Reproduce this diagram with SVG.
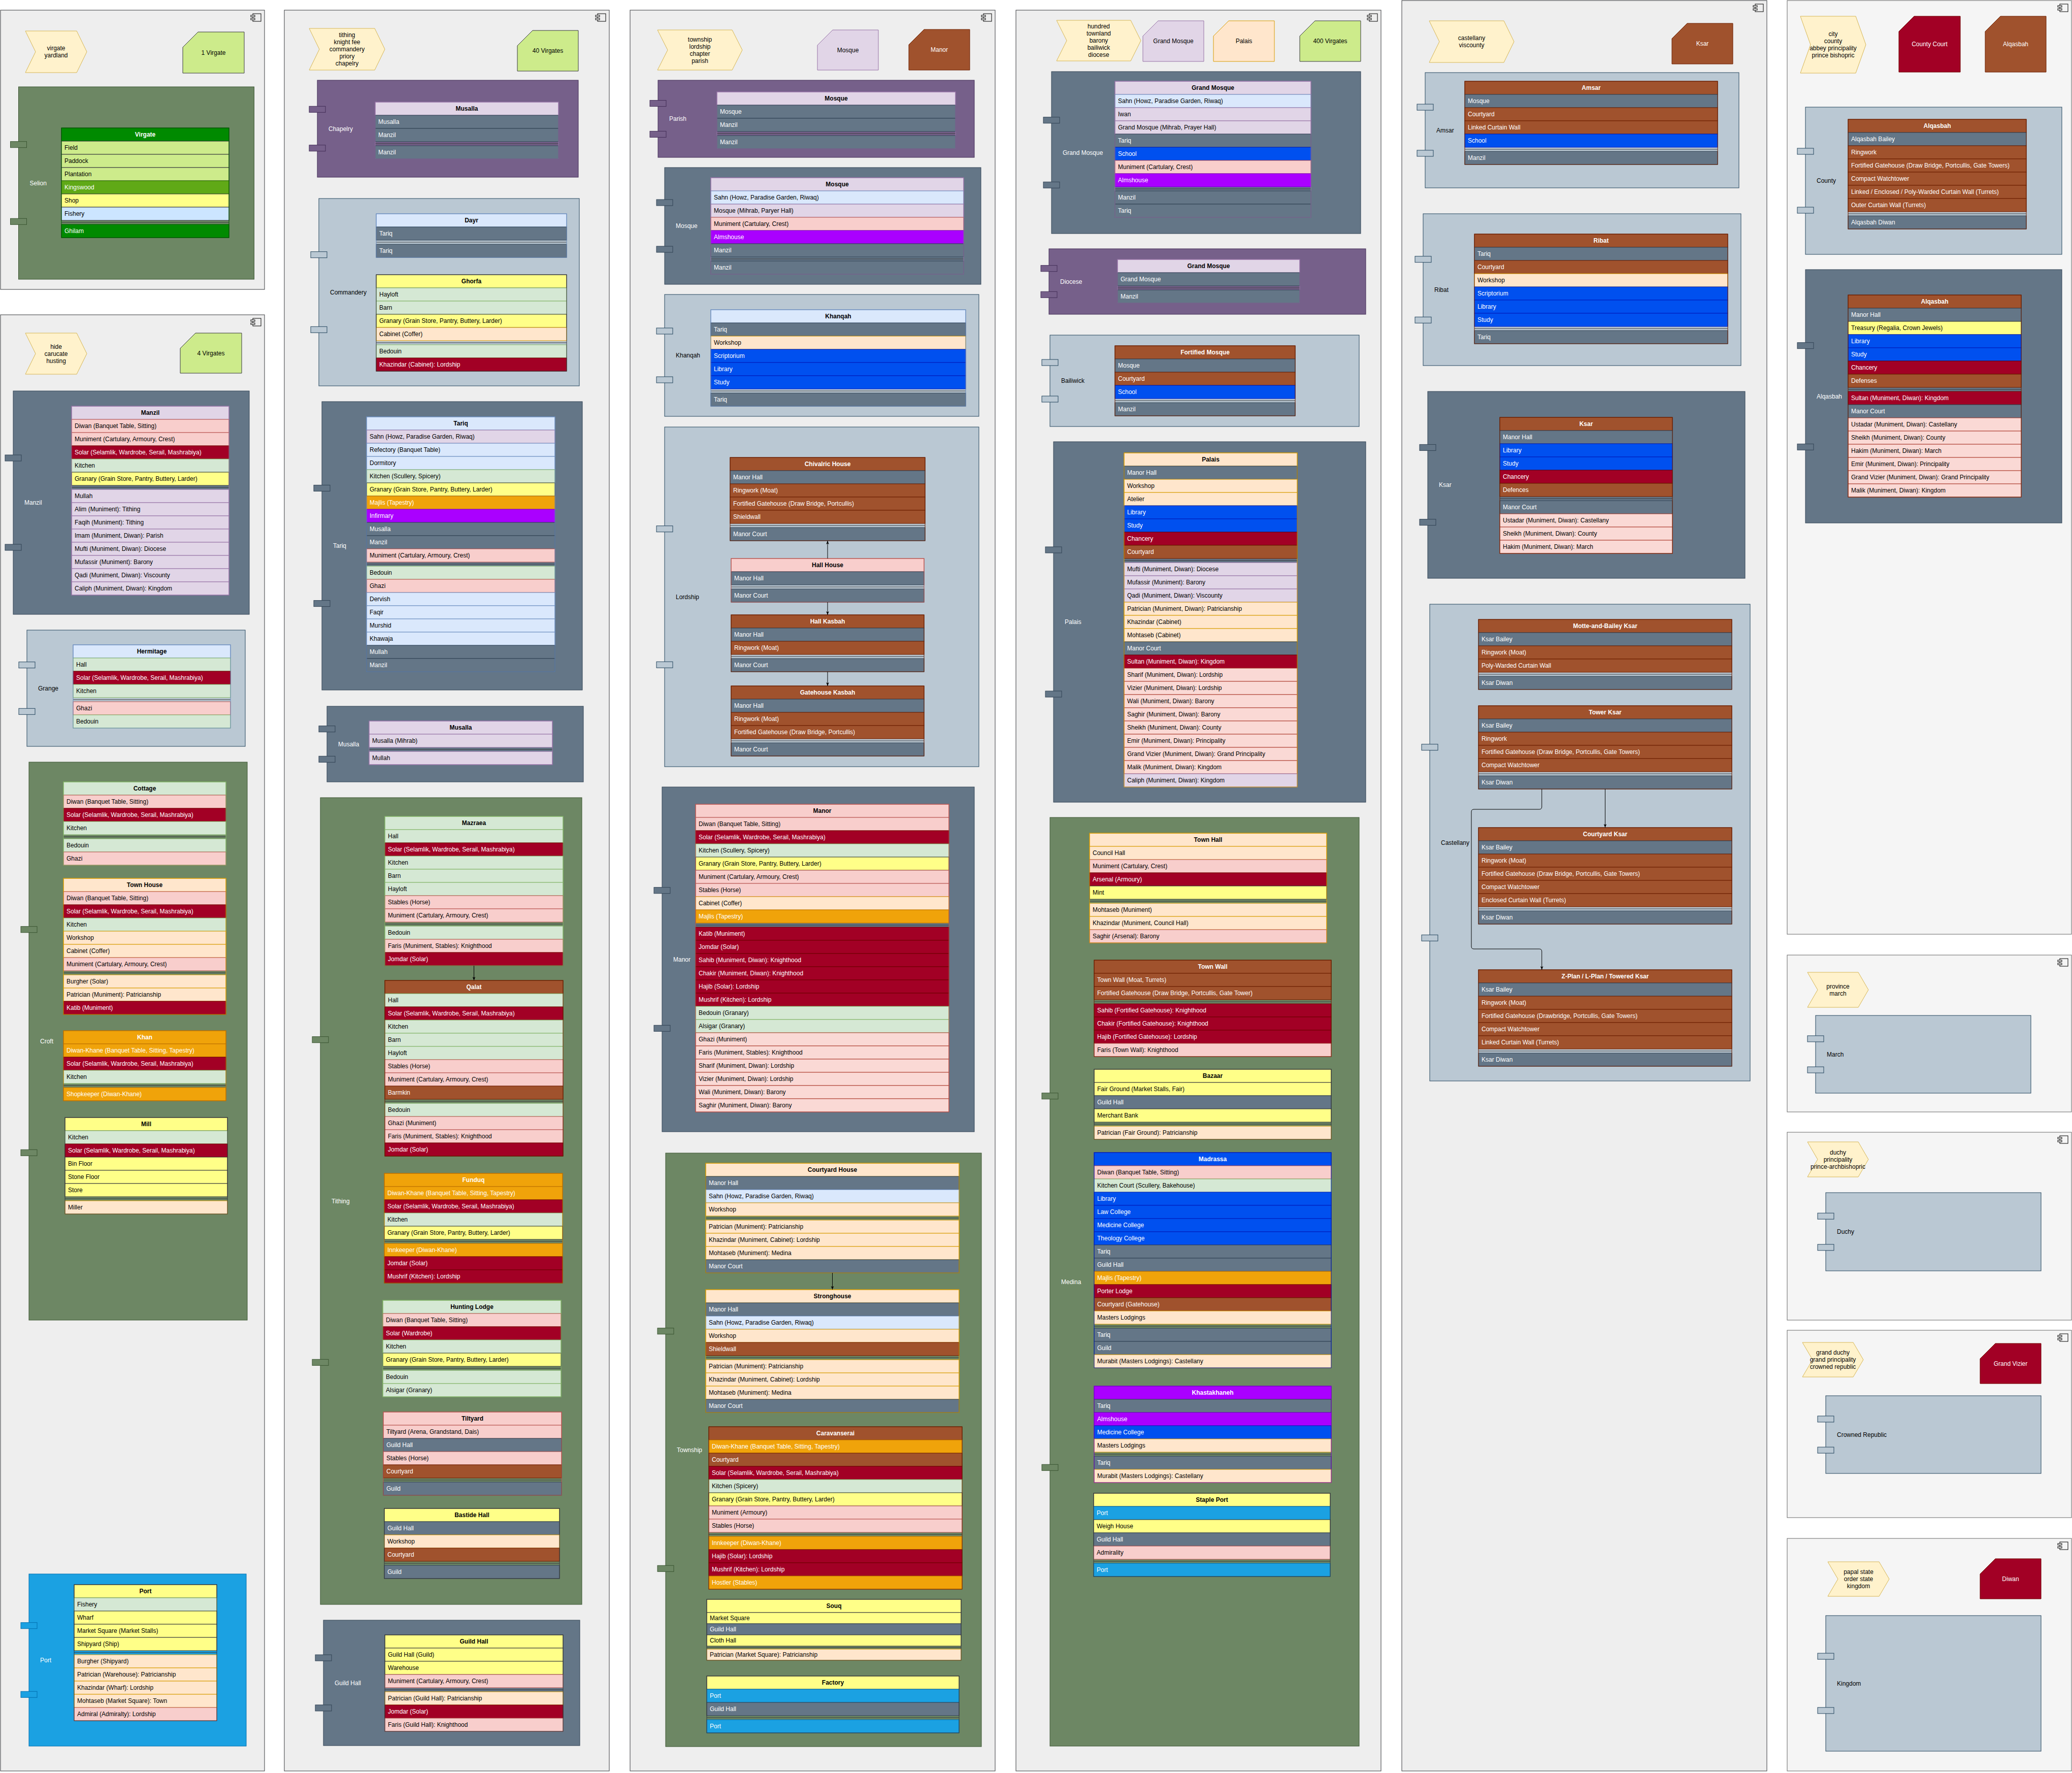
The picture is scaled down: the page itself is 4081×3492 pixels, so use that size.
<svg xmlns="http://www.w3.org/2000/svg" width="4081" height="3492" viewBox="0 0 4081 3492">
<defs>
<style>
text{font-family:"Liberation Sans",Arial,Helvetica,sans-serif;font-size:12px;fill:#000}
.w{fill:#fff}
.h{font-weight:bold;text-anchor:middle}
.m{text-anchor:middle}
.pn{fill:#eeeeee;stroke:#36393d}
.pn2{fill:#f5f5f5;stroke:#666666}
.ch{fill:#fff2cc;stroke:#d6b656}
.cg{fill:#6d8764;stroke:#3a5431}
.cs{fill:#647687;stroke:#314354}
.cp{fill:#76608a;stroke:#432d57}
.cb{fill:#bac8d3;stroke:#23445d}
.ck{fill:#1ba1e2;stroke:#006eaf}
.g{fill:#d5e8d4;stroke:#82b366}
.r{fill:#f8cecc;stroke:#b85450}
.rl{fill:#fad9d5;stroke:#ae4132}
.b{fill:#dae8fc;stroke:#6c8ebf}
.p{fill:#e1d5e7;stroke:#9673a6}
.o{fill:#ffe6cc;stroke:#d79b00}
.y{fill:#ffff88;stroke:#36393d}
.lg{fill:#cdeb8b;stroke:#36393d}
.lb{fill:#cce5ff;stroke:#36393d}
.s{fill:#647687;stroke:#314354}
.c{fill:#a20025;stroke:#6f0000}
.n{fill:#a0522d;stroke:#6d1f00}
.a{fill:#f0a30a;stroke:#bd7000}
.u{fill:#0050ef;stroke:#001dbc}
.v{fill:#aa00ff;stroke:#7700cc}
.k{fill:#1ba1e2;stroke:#006eaf}
.dg{fill:#008a00;stroke:#005700}
.mg{fill:#60a917;stroke:#2d7600}
.fr{fill:none}
.sl{stroke:#36393d;stroke-width:1}
.ic{fill:none;stroke:#000}
.ij{fill:#fff;stroke:#000}
</style>
<g id="ico"><rect class="ic" x="5" y="0" width="16" height="15"/><rect class="ij" x="1" y="3" width="8" height="3"/><rect class="ij" x="1" y="9" width="8" height="3"/></g>
<marker id="ah" viewBox="0 0 10 10" refX="10" refY="5" markerWidth="7" markerHeight="7" orient="auto" markerUnits="userSpaceOnUse"><path d="M0,1 L10,5 L0,9 L2.5,5 z" fill="#000"/></marker>
</defs>
<rect width="4081" height="3492" fill="#ffffff"/>

<!-- panels -->
<g id="panels">
<rect class="pn" x="1" y="20" width="520" height="550"/>
<rect class="pn" x="1" y="620" width="520" height="2868"/>
<rect class="pn" x="560" y="20" width="640" height="3468"/>
<rect class="pn" x="1241" y="20" width="719" height="3468"/>
<rect class="pn" x="2001" y="20" width="719" height="3468"/>
<rect class="pn" x="2761" y="1" width="719" height="3487"/>
<rect class="pn2" x="3520" y="1" width="560" height="1839"/>
<rect class="pn2" x="3520" y="1881" width="560" height="309"/>
<rect class="pn2" x="3520" y="2230" width="560" height="370"/>
<rect class="pn2" x="3520" y="2620" width="560" height="369"/>
<rect class="pn2" x="3520" y="3030" width="560" height="458"/>
<use href="#ico" x="493" y="27"/><use href="#ico" x="493" y="627"/><use href="#ico" x="1172" y="27"/><use href="#ico" x="1932" y="27"/><use href="#ico" x="2692" y="27"/><use href="#ico" x="3452" y="8"/><use href="#ico" x="4052" y="8"/><use href="#ico" x="4052" y="1888"/><use href="#ico" x="4052" y="2237"/><use href="#ico" x="4052" y="2627"/><use href="#ico" x="4052" y="3037"/>
</g>

<!-- chevrons and cards -->
<g id="tag-virgate"><polygon class="ch" points="50,61 151,61 171,102 151,143 50,143 70,102"/><text class="m" x="110.5" y="99">virgate</text><text class="m" x="110.5" y="113">yardland</text></g>
<g id="card-1virgate"><polygon class="lg" points="390,63 481,63 481,144 360,144 360,93"/><text class="m" x="420.5" y="107.5">1 Virgate</text></g>
<g id="tag-hide"><polygon class="ch" points="50,656 151,656 171,696.5 151,737 50,737 70,696.5"/><text class="m" x="110.5" y="686.5">hide</text><text class="m" x="110.5" y="700.5">carucate</text><text class="m" x="110.5" y="714.5">husting</text></g>
<g id="card-4virgates"><polygon class="lg" points="385,656 476,656 476,735 355,735 355,686"/><text class="m" x="415.5" y="699.5">4 Virgates</text></g>
<g id="tag-tithing"><polygon class="ch" points="609,56 738,56 758,97 738,138 609,138 629,97"/><text class="m" x="683.5" y="73">tithing</text><text class="m" x="683.5" y="87">knight fee</text><text class="m" x="683.5" y="101">commandery</text><text class="m" x="683.5" y="115">priory</text><text class="m" x="683.5" y="129">chapelry</text></g>
<g id="card-40virgates"><polygon class="lg" points="1049,60 1139,60 1139,140 1019,140 1019,90"/><text class="m" x="1079" y="104">40 Virgates</text></g>
<g id="tag-township"><polygon class="ch" points="1295,59 1442,59 1462,98.5 1442,138 1295,138 1315,98.5"/><text class="m" x="1378.5" y="81.5">township</text><text class="m" x="1378.5" y="95.5">lordship</text><text class="m" x="1378.5" y="109.5">chapter</text><text class="m" x="1378.5" y="123.5">parish</text></g>
<g id="card-mosque"><polygon class="p" points="1640,59 1730,59 1730,138 1610,138 1610,89"/><text class="m" x="1670" y="102.5">Mosque</text></g>
<g id="card-manor"><polygon class="n" points="1820,58 1910,58 1910,138 1790,138 1790,88"/><text class="m w" x="1850" y="102">Manor</text></g>
<g id="tag-hundred"><polygon class="ch" points="2081,40 2227,40 2247,80 2227,120 2081,120 2101,80"/><text class="m" x="2164" y="56">hundred</text><text class="m" x="2164" y="70">townland</text><text class="m" x="2164" y="84">barony</text><text class="m" x="2164" y="98">bailiwick</text><text class="m" x="2164" y="112">diocese</text></g>
<g id="card-grandmosque"><polygon class="p" points="2281,41 2371,41 2371,121 2251,121 2251,71"/><text class="m" x="2311" y="85">Grand Mosque</text></g>
<g id="card-palais"><polygon class="o" points="2420,41 2510,41 2510,121 2390,121 2390,71"/><text class="m" x="2450" y="85">Palais</text></g>
<g id="card-400virgates"><polygon class="lg" points="2590,41 2680,41 2680,121 2560,121 2560,71"/><text class="m" x="2620" y="85">400 Virgates</text></g>
<g id="tag-castellany"><polygon class="ch" points="2815,41 2962,41 2982,82 2962,123 2815,123 2835,82"/><text class="m" x="2898.5" y="79">castellany</text><text class="m" x="2898.5" y="93">viscounty</text></g>
<g id="card-ksar"><polygon class="n" points="3323,46 3413,46 3413,126 3293,126 3293,76"/><text class="m w" x="3353" y="90">Ksar</text></g>
<g id="tag-city"><polygon class="ch" points="3546,32 3655,32 3675,88 3655,144 3546,144 3566,88"/><text class="m" x="3610.5" y="71">city</text><text class="m" x="3610.5" y="85">county</text><text class="m" x="3610.5" y="99">abbey principality</text><text class="m" x="3610.5" y="113">prince bishopric</text></g>
<g id="card-countycourt"><polygon class="c" points="3770,32 3861,32 3861,142 3740,142 3740,62"/><text class="m w" x="3800.5" y="91">County Court</text></g>
<g id="card-alqasbah"><polygon class="n" points="3940,32 4030,32 4030,142 3910,142 3910,62"/><text class="m w" x="3970" y="91">Alqasbah</text></g>
<g id="tag-province"><polygon class="ch" points="3560,1915 3660,1915 3680,1949.5 3660,1984 3560,1984 3580,1949.5"/><text class="m" x="3620" y="1946.5">province</text><text class="m" x="3620" y="1960.5">march</text></g>
<g id="tag-duchy"><polygon class="ch" points="3560,2249 3660,2249 3680,2283.5 3660,2318 3560,2318 3580,2283.5"/><text class="m" x="3620" y="2273.5">duchy</text><text class="m" x="3620" y="2287.5">principality</text><text class="m" x="3620" y="2301.5">prince-archbishopric</text></g>
<g id="tag-grandduchy"><polygon class="ch" points="3550,2644 3650,2644 3670,2678 3650,2712 3550,2712 3570,2678"/><text class="m" x="3610" y="2668">grand duchy</text><text class="m" x="3610" y="2682">grand principality</text><text class="m" x="3610" y="2696">crowned republic</text></g>
<g id="card-grandvizier"><polygon class="c" points="3930,2646 4020,2646 4020,2725 3900,2725 3900,2676"/><text class="m w" x="3960" y="2689.5">Grand Vizier</text></g>
<g id="tag-papal"><polygon class="ch" points="3600,3076 3701,3076 3721,3110 3701,3144 3600,3144 3620,3110"/><text class="m" x="3660.5" y="3100">papal state</text><text class="m" x="3660.5" y="3114">order state</text><text class="m" x="3660.5" y="3128">kingdom</text></g>
<g id="card-diwan"><polygon class="c" points="3930,3070 4020,3070 4020,3149 3900,3149 3900,3100"/><text class="m w" x="3960" y="3113.5">Diwan</text></g>

<!-- components -->
<g id="comp-selion"><rect class="cg" x="36.5" y="171" width="464" height="379"/><rect class="cg" x="20.5" y="278.7" width="32" height="12"/><rect class="cg" x="20.5" y="430.3" width="32" height="12"/><text class="w" x="58.5" y="364.5">Selion</text></g>
<g id="comp-manzil"><rect class="cs" x="26" y="770" width="465" height="440"/><rect class="cs" x="10" y="896" width="32" height="12"/><rect class="cs" x="10" y="1072" width="32" height="12"/><text class="w" x="48" y="994">Manzil</text></g>
<g id="comp-grange"><rect class="cb" x="53" y="1241" width="430" height="229"/><rect class="cb" x="37" y="1303.7" width="32" height="12"/><rect class="cb" x="37" y="1395.3" width="32" height="12"/><text x="75" y="1359.5">Grange</text></g>
<g id="comp-croft"><rect class="cg" x="57" y="1501" width="430" height="1099"/><rect class="cg" x="41" y="1824.7" width="32" height="12"/><rect class="cg" x="41" y="2264.3" width="32" height="12"/><text class="w" x="79" y="2054.5">Croft</text></g>
<g id="comp-port"><rect class="ck" x="57" y="3100" width="428" height="339"/><rect class="ck" x="41" y="3195.7" width="32" height="12"/><rect class="ck" x="41" y="3331.3" width="32" height="12"/><text class="w" x="79" y="3273.5">Port</text></g>
<g id="comp-chapelry"><rect class="cp" x="625" y="158" width="514" height="191"/><rect class="cp" x="609" y="209.3" width="32" height="12"/><rect class="cp" x="609" y="285.7" width="32" height="12"/><text class="w" x="647" y="257.5">Chapelry</text></g>
<g id="comp-commandery"><rect class="cb" x="628" y="391" width="513" height="369"/><rect class="cb" x="612" y="495.7" width="32" height="12"/><rect class="cb" x="612" y="643.3" width="32" height="12"/><text x="650" y="579.5">Commandery</text></g>
<g id="comp-tariq"><rect class="cs" x="634" y="791" width="513" height="568"/><rect class="cs" x="618" y="955.4" width="32" height="12"/><rect class="cs" x="618" y="1182.6" width="32" height="12"/><text class="w" x="656" y="1079">Tariq</text></g>
<g id="comp-musalla"><rect class="cs" x="644" y="1391" width="505" height="149"/><rect class="cs" x="628" y="1429.7" width="32" height="12"/><rect class="cs" x="628" y="1489.3" width="32" height="12"/><text class="w" x="666" y="1469.5">Musalla</text></g>
<g id="comp-tithing"><rect class="cg" x="631" y="1571" width="515" height="1589"/><rect class="cg" x="615" y="2041.7" width="32" height="12"/><rect class="cg" x="615" y="2677.3" width="32" height="12"/><text class="w" x="653" y="2369.5">Tithing</text></g>
<g id="comp-guildhall"><rect class="cs" x="637" y="3191" width="505" height="247"/><rect class="cs" x="621" y="3259.1" width="32" height="12"/><rect class="cs" x="621" y="3357.9" width="32" height="12"/><text class="w" x="659" y="3318.5">Guild Hall</text></g>
<g id="comp-parish"><rect class="cp" x="1296" y="158" width="623" height="152"/><rect class="cp" x="1280" y="197.6" width="32" height="12"/><rect class="cp" x="1280" y="258.4" width="32" height="12"/><text class="w" x="1318" y="238">Parish</text></g>
<g id="comp-mosque"><rect class="cs" x="1309" y="330" width="623" height="230"/><rect class="cs" x="1293" y="393" width="32" height="12"/><rect class="cs" x="1293" y="485" width="32" height="12"/><text class="w" x="1331" y="449">Mosque</text></g>
<g id="comp-khanqah"><rect class="cb" x="1309" y="580" width="619" height="240"/><rect class="cb" x="1293" y="646" width="32" height="12"/><rect class="cb" x="1293" y="742" width="32" height="12"/><text x="1331" y="704">Khanqah</text></g>
<g id="comp-lordship"><rect class="cb" x="1309" y="841" width="619" height="669"/><rect class="cb" x="1293" y="1035.7" width="32" height="12"/><rect class="cb" x="1293" y="1303.3" width="32" height="12"/><text x="1331" y="1179.5">Lordship</text></g>
<g id="comp-manor"><rect class="cs" x="1304" y="1550" width="615" height="679"/><rect class="cs" x="1288" y="1747.7" width="32" height="12"/><rect class="cs" x="1288" y="2019.3" width="32" height="12"/><text class="w" x="1326" y="1893.5">Manor</text></g>
<g id="comp-township"><rect class="cg" x="1311" y="2271" width="622" height="1169"/><rect class="cg" x="1295" y="2615.7" width="32" height="12"/><rect class="cg" x="1295" y="3083.3" width="32" height="12"/><text class="w" x="1333" y="2859.5">Township</text></g>
<g id="comp-grandmosque"><rect class="cs" x="2071" y="141" width="609" height="319"/><rect class="cs" x="2055" y="230.7" width="32" height="12"/><rect class="cs" x="2055" y="358.3" width="32" height="12"/><text class="w" x="2093" y="304.5">Grand Mosque</text></g>
<g id="comp-diocese"><rect class="cp" x="2066" y="490" width="624" height="129"/><rect class="cp" x="2050" y="522.7" width="32" height="12"/><rect class="cp" x="2050" y="574.3" width="32" height="12"/><text class="w" x="2088" y="558.5">Diocese</text></g>
<g id="comp-bailiwick"><rect class="cb" x="2068" y="660" width="609" height="180"/><rect class="cb" x="2052" y="708" width="32" height="12"/><rect class="cb" x="2052" y="780" width="32" height="12"/><text x="2090" y="754">Bailiwick</text></g>
<g id="comp-palais"><rect class="cs" x="2075" y="870" width="615" height="710"/><rect class="cs" x="2059" y="1077" width="32" height="12"/><rect class="cs" x="2059" y="1361" width="32" height="12"/><text class="w" x="2097" y="1229">Palais</text></g>
<g id="comp-medina"><rect class="cg" x="2068" y="1610" width="609" height="1829"/><rect class="cg" x="2052" y="2152.7" width="32" height="12"/><rect class="cg" x="2052" y="2884.3" width="32" height="12"/><text class="w" x="2090" y="2528.5">Medina</text></g>
<g id="comp-amsar"><rect class="cb" x="2807" y="143" width="618" height="227"/><rect class="cb" x="2791" y="205.1" width="32" height="12"/><rect class="cb" x="2791" y="295.9" width="32" height="12"/><text x="2829" y="260.5">Amsar</text></g>
<g id="comp-ribat"><rect class="cb" x="2803" y="421" width="626" height="299"/><rect class="cb" x="2787" y="504.7" width="32" height="12"/><rect class="cb" x="2787" y="624.3" width="32" height="12"/><text x="2825" y="574.5">Ribat</text></g>
<g id="comp-ksar"><rect class="cs" x="2812" y="771" width="625" height="368"/><rect class="cs" x="2796" y="875.4" width="32" height="12"/><rect class="cs" x="2796" y="1022.6" width="32" height="12"/><text class="w" x="2834" y="959">Ksar</text></g>
<g id="comp-castellany"><rect class="cb" x="2816" y="1190" width="631" height="939"/><rect class="cb" x="2800" y="1465.7" width="32" height="12"/><rect class="cb" x="2800" y="1841.3" width="32" height="12"/><text x="2838" y="1663.5">Castellany</text></g>
<g id="comp-county"><rect class="cb" x="3556" y="211" width="505" height="290"/><rect class="cb" x="3540" y="292" width="32" height="12"/><rect class="cb" x="3540" y="408" width="32" height="12"/><text x="3578" y="360">County</text></g>
<g id="comp-alqasbah"><rect class="cs" x="3556" y="531" width="505" height="499"/><rect class="cs" x="3540" y="674.7" width="32" height="12"/><rect class="cs" x="3540" y="874.3" width="32" height="12"/><text class="w" x="3578" y="784.5">Alqasbah</text></g>
<g id="comp-march"><rect class="cb" x="3576" y="2000" width="424" height="153"/><rect class="cb" x="3560" y="2039.9" width="32" height="12"/><rect class="cb" x="3560" y="2101.1" width="32" height="12"/><text x="3598" y="2080.5">March</text></g>
<g id="comp-duchy"><rect class="cb" x="3596" y="2349" width="424" height="154"/><rect class="cb" x="3580" y="2389.2" width="32" height="12"/><rect class="cb" x="3580" y="2450.8" width="32" height="12"/><text x="3618" y="2430">Duchy</text></g>
<g id="comp-crownedrepublic"><rect class="cb" x="3596" y="2749" width="424" height="153"/><rect class="cb" x="3580" y="2788.9" width="32" height="12"/><rect class="cb" x="3580" y="2850.1" width="32" height="12"/><text x="3618" y="2829.5">Crowned Republic</text></g>
<g id="comp-kingdom"><rect class="cb" x="3596" y="3182" width="424" height="267"/><rect class="cb" x="3580" y="3256.1" width="32" height="12"/><rect class="cb" x="3580" y="3362.9" width="32" height="12"/><text x="3618" y="3319.5">Kingdom</text></g>

<!-- tables: column 1 -->
<g id="tbl-virgate" transform="translate(121 252)">
<rect class="dg" width="330" height="26"/><text class="h w" x="165" y="17">Virgate</text>
<rect class="lg" y="26" width="330" height="26"/><text x="6" y="43">Field</text>
<rect class="lg" y="52" width="330" height="26"/><text x="6" y="69">Paddock</text>
<rect class="lg" y="78" width="330" height="26"/><text x="6" y="95">Plantation</text>
<rect class="mg" y="104" width="330" height="26"/><text class="w" x="6" y="121">Kingswood</text>
<rect class="y" y="130" width="330" height="26"/><text x="6" y="147">Shop</text>
<rect class="lb" y="156" width="330" height="26"/><text x="6" y="173">Fishery</text>
<line class="sl" x2="330" y1="186" y2="186"/>
<rect class="dg" y="190" width="330" height="26"/><text class="w" x="6" y="207">Ghilam</text>
<rect class="fr" width="330" height="216" stroke="#005700"/>
</g>
<g id="tbl-manzil" transform="translate(141 800)">
<rect class="p" width="310" height="26"/><text class="h" x="155" y="17">Manzil</text>
<rect class="r" y="26" width="310" height="26"/><text x="6" y="43">Diwan (Banquet Table, Sitting)</text>
<rect class="r" y="52" width="310" height="26"/><text x="6" y="69">Muniment (Cartulary, Armoury, Crest)</text>
<rect class="c" y="78" width="310" height="26"/><text class="w" x="6" y="95">Solar (Selamlik, Wardrobe, Serail, Mashrabiya)</text>
<rect class="g" y="104" width="310" height="26"/><text x="6" y="121">Kitchen</text>
<rect class="y" y="130" width="310" height="26"/><text x="6" y="147">Granary (Grain Store, Pantry, Buttery, Larder)</text>
<line class="sl" x2="310" y1="160" y2="160"/>
<rect class="p" y="164" width="310" height="26"/><text x="6" y="181">Mullah</text>
<rect class="p" y="190" width="310" height="26"/><text x="6" y="207">Alim (Muniment): Tithing</text>
<rect class="p" y="216" width="310" height="26"/><text x="6" y="233">Faqih (Muniment): Tithing</text>
<rect class="p" y="242" width="310" height="26"/><text x="6" y="259">Imam (Muniment, Diwan): Parish</text>
<rect class="p" y="268" width="310" height="26"/><text x="6" y="285">Mufti (Muniment, Diwan): Diocese</text>
<rect class="p" y="294" width="310" height="26"/><text x="6" y="311">Mufassir (Muniment): Barony</text>
<rect class="p" y="320" width="310" height="26"/><text x="6" y="337">Qadi (Muniment, Diwan): Viscounty</text>
<rect class="p" y="346" width="310" height="26"/><text x="6" y="363">Caliph (Muniment, Diwan): Kingdom</text>
<rect class="fr" width="310" height="372" stroke="#9673a6"/>
</g>
<g id="tbl-hermitage" transform="translate(144 1270)">
<rect class="b" width="310" height="26"/><text class="h" x="155" y="17">Hermitage</text>
<rect class="g" y="26" width="310" height="26"/><text x="6" y="43">Hall</text>
<rect class="c" y="52" width="310" height="26"/><text class="w" x="6" y="69">Solar (Selamlik, Wardrobe, Serail, Mashrabiya)</text>
<rect class="g" y="78" width="310" height="26"/><text x="6" y="95">Kitchen</text>
<line class="sl" x2="310" y1="108" y2="108"/>
<rect class="r" y="112" width="310" height="26"/><text x="6" y="129">Ghazi</text>
<rect class="g" y="138" width="310" height="26"/><text x="6" y="155">Bedouin</text>
<rect class="fr" width="310" height="164" stroke="#6c8ebf"/>
</g>
<g id="tbl-cottage" transform="translate(125 1540)">
<rect class="g" width="320" height="26"/><text class="h" x="160" y="17">Cottage</text>
<rect class="r" y="26" width="320" height="26"/><text x="6" y="43">Diwan (Banquet Table, Sitting)</text>
<rect class="c" y="52" width="320" height="26"/><text class="w" x="6" y="69">Solar (Selamlik, Wardrobe, Serail, Mashrabiya)</text>
<rect class="g" y="78" width="320" height="26"/><text x="6" y="95">Kitchen</text>
<line class="sl" x2="320" y1="108" y2="108"/>
<rect class="g" y="112" width="320" height="26"/><text x="6" y="129">Bedouin</text>
<rect class="r" y="138" width="320" height="26"/><text x="6" y="155">Ghazi</text>
<rect class="fr" width="320" height="164" stroke="#82b366"/>
</g>
<g id="tbl-townhouse" transform="translate(125 1730)">
<rect class="o" width="320" height="26"/><text class="h" x="160" y="17">Town House</text>
<rect class="r" y="26" width="320" height="26"/><text x="6" y="43">Diwan (Banquet Table, Sitting)</text>
<rect class="c" y="52" width="320" height="26"/><text class="w" x="6" y="69">Solar (Selamlik, Wardrobe, Serail, Mashrabiya)</text>
<rect class="g" y="78" width="320" height="26"/><text x="6" y="95">Kitchen</text>
<rect class="o" y="104" width="320" height="26"/><text x="6" y="121">Workshop</text>
<rect class="o" y="130" width="320" height="26"/><text x="6" y="147">Cabinet (Coffer)</text>
<rect class="r" y="156" width="320" height="26"/><text x="6" y="173">Muniment (Cartulary, Armoury, Crest)</text>
<line class="sl" x2="320" y1="186" y2="186"/>
<rect class="o" y="190" width="320" height="26"/><text x="6" y="207">Burgher (Solar)</text>
<rect class="o" y="216" width="320" height="26"/><text x="6" y="233">Patrician (Muniment): Patricianship</text>
<rect class="c" y="242" width="320" height="26"/><text class="w" x="6" y="259">Katib (Muniment)</text>
<rect class="fr" width="320" height="268" stroke="#d79b00"/>
</g>
<g id="tbl-khan" transform="translate(125 2030)">
<rect class="a" width="320" height="26"/><text class="h w" x="160" y="17">Khan</text>
<rect class="a" y="26" width="320" height="26"/><text class="w" x="6" y="43">Diwan-Khane (Banquet Table, Sitting, Tapestry)</text>
<rect class="c" y="52" width="320" height="26"/><text class="w" x="6" y="69">Solar (Selamlik, Wardrobe, Serail, Mashrabiya)</text>
<rect class="g" y="78" width="320" height="26"/><text x="6" y="95">Kitchen</text>
<line class="sl" x2="320" y1="108" y2="108"/>
<rect class="a" y="112" width="320" height="26"/><text class="w" x="6" y="129">Shopkeeper (Diwan-Khane)</text>
<rect class="fr" width="320" height="138" stroke="#bd7000"/>
</g>
<g id="tbl-mill" transform="translate(128 2201)">
<rect class="y" width="320" height="26"/><text class="h" x="160" y="17">Mill</text>
<rect class="g" y="26" width="320" height="26"/><text x="6" y="43">Kitchen</text>
<rect class="c" y="52" width="320" height="26"/><text class="w" x="6" y="69">Solar (Selamlik, Wardrobe, Serail, Mashrabiya)</text>
<rect class="y" y="78" width="320" height="26"/><text x="6" y="95">Bin Floor</text>
<rect class="y" y="104" width="320" height="26"/><text x="6" y="121">Stone Floor</text>
<rect class="y" y="130" width="320" height="26"/><text x="6" y="147">Store</text>
<line class="sl" x2="320" y1="160" y2="160"/>
<rect class="o" y="164" width="320" height="26"/><text x="6" y="181">Miller</text>
<rect class="fr" width="320" height="190" stroke="#36393d"/>
</g>
<g id="tbl-port" transform="translate(146 3121)">
<rect class="y" width="281" height="26"/><text class="h" x="140.5" y="17">Port</text>
<rect class="g" y="26" width="281" height="26"/><text x="6" y="43">Fishery</text>
<rect class="y" y="52" width="281" height="26"/><text x="6" y="69">Wharf</text>
<rect class="y" y="78" width="281" height="26"/><text x="6" y="95">Market Square (Market Stalls)</text>
<rect class="y" y="104" width="281" height="26"/><text x="6" y="121">Shipyard (Ship)</text>
<line class="sl" x2="281" y1="134" y2="134"/>
<rect class="o" y="138" width="281" height="26"/><text x="6" y="155">Burgher (Shipyard)</text>
<rect class="o" y="164" width="281" height="26"/><text x="6" y="181">Patrician (Warehouse): Patricianship</text>
<rect class="o" y="190" width="281" height="26"/><text x="6" y="207">Khazindar (Wharf): Lordship</text>
<rect class="o" y="216" width="281" height="26"/><text x="6" y="233">Mohtaseb (Market Square): Town</text>
<rect class="r" y="242" width="281" height="26"/><text x="6" y="259">Admiral (Admiralty): Lordship</text>
<rect class="fr" width="281" height="268" stroke="#36393d"/>
</g>

<!-- tables: column 2 -->
<g id="tbl-musalla-chapelry" transform="translate(739 201)">
<rect class="p" width="361" height="26"/><text class="h" x="180.5" y="17">Musalla</text>
<rect class="s" y="26" width="361" height="26"/><text class="w" x="6" y="43">Musalla</text>
<rect class="s" y="52" width="361" height="26"/><text class="w" x="6" y="69">Manzil</text>
<line class="sl" x2="361" y1="82" y2="82"/>
<rect class="s" y="86" width="361" height="26"/><text class="w" x="6" y="103">Manzil</text>
<rect class="fr" width="361" height="112" stroke="#9673a6"/>
</g>
<g id="tbl-dayr" transform="translate(741 421)">
<rect class="b" width="375" height="26"/><text class="h" x="187.5" y="17">Dayr</text>
<rect class="s" y="26" width="375" height="26"/><text class="w" x="6" y="43">Tariq</text>
<line class="sl" x2="375" y1="56" y2="56"/>
<rect class="s" y="60" width="375" height="26"/><text class="w" x="6" y="77">Tariq</text>
<rect class="fr" width="375" height="86" stroke="#6c8ebf"/>
</g>
<g id="tbl-ghorfa" transform="translate(741 541)">
<rect class="y" width="375" height="26"/><text class="h" x="187.5" y="17">Ghorfa</text>
<rect class="g" y="26" width="375" height="26"/><text x="6" y="43">Hayloft</text>
<rect class="g" y="52" width="375" height="26"/><text x="6" y="69">Barn</text>
<rect class="y" y="78" width="375" height="26"/><text x="6" y="95">Granary (Grain Store, Pantry, Buttery, Larder)</text>
<rect class="o" y="104" width="375" height="26"/><text x="6" y="121">Cabinet (Coffer)</text>
<line class="sl" x2="375" y1="134" y2="134"/>
<rect class="g" y="138" width="375" height="26"/><text x="6" y="155">Bedouin</text>
<rect class="c" y="164" width="375" height="26"/><text class="w" x="6" y="181">Khazindar (Cabinet): Lordship</text>
<rect class="fr" width="375" height="190" stroke="#36393d"/>
</g>
<g id="tbl-tariq" transform="translate(722 821)">
<rect class="b" width="371" height="26"/><text class="h" x="185.5" y="17">Tariq</text>
<rect class="p" y="26" width="371" height="26"/><text x="6" y="43">Sahn (Howz, Paradise Garden, Riwaq)</text>
<rect class="b" y="52" width="371" height="26"/><text x="6" y="69">Refectory (Banquet Table)</text>
<rect class="b" y="78" width="371" height="26"/><text x="6" y="95">Dormitory</text>
<rect class="g" y="104" width="371" height="26"/><text x="6" y="121">Kitchen (Scullery, Spicery)</text>
<rect class="y" y="130" width="371" height="26"/><text x="6" y="147">Granary (Grain Store, Pantry, Buttery, Larder)</text>
<rect class="a" y="156" width="371" height="26"/><text class="w" x="6" y="173">Majlis (Tapestry)</text>
<rect class="v" y="182" width="371" height="26"/><text class="w" x="6" y="199">Infirmary</text>
<rect class="s" y="208" width="371" height="26"/><text class="w" x="6" y="225">Musalla</text>
<rect class="s" y="234" width="371" height="26"/><text class="w" x="6" y="251">Manzil</text>
<rect class="r" y="260" width="371" height="26"/><text x="6" y="277">Muniment (Cartulary, Armoury, Crest)</text>
<line class="sl" x2="371" y1="290" y2="290"/>
<rect class="g" y="294" width="371" height="26"/><text x="6" y="311">Bedouin</text>
<rect class="r" y="320" width="371" height="26"/><text x="6" y="337">Ghazi</text>
<rect class="b" y="346" width="371" height="26"/><text x="6" y="363">Dervish</text>
<rect class="b" y="372" width="371" height="26"/><text x="6" y="389">Faqir</text>
<rect class="b" y="398" width="371" height="26"/><text x="6" y="415">Murshid</text>
<rect class="b" y="424" width="371" height="26"/><text x="6" y="441">Khawaja</text>
<rect class="s" y="450" width="371" height="26"/><text class="w" x="6" y="467">Mullah</text>
<rect class="s" y="476" width="371" height="26"/><text class="w" x="6" y="493">Manzil</text>
<rect class="fr" width="371" height="502" stroke="#6c8ebf"/>
</g>
<g id="tbl-musalla" transform="translate(727 1420)">
<rect class="p" width="361" height="26"/><text class="h" x="180.5" y="17">Musalla</text>
<rect class="p" y="26" width="361" height="26"/><text x="6" y="43">Musalla (Mihrab)</text>
<line class="sl" x2="361" y1="56" y2="56"/>
<rect class="p" y="60" width="361" height="26"/><text x="6" y="77">Mullah</text>
<rect class="fr" width="361" height="86" stroke="#9673a6"/>
</g>
<g id="tbl-mazraea" transform="translate(758 1608)">
<rect class="g" width="351" height="26"/><text class="h" x="175.5" y="17">Mazraea</text>
<rect class="g" y="26" width="351" height="26"/><text x="6" y="43">Hall</text>
<rect class="c" y="52" width="351" height="26"/><text class="w" x="6" y="69">Solar (Selamlik, Wardrobe, Serail, Mashrabiya)</text>
<rect class="g" y="78" width="351" height="26"/><text x="6" y="95">Kitchen</text>
<rect class="g" y="104" width="351" height="26"/><text x="6" y="121">Barn</text>
<rect class="g" y="130" width="351" height="26"/><text x="6" y="147">Hayloft</text>
<rect class="r" y="156" width="351" height="26"/><text x="6" y="173">Stables (Horse)</text>
<rect class="r" y="182" width="351" height="26"/><text x="6" y="199">Muniment (Cartulary, Armoury, Crest)</text>
<line class="sl" x2="351" y1="212" y2="212"/>
<rect class="g" y="216" width="351" height="26"/><text x="6" y="233">Bedouin</text>
<rect class="r" y="242" width="351" height="26"/><text x="6" y="259">Faris (Muniment, Stables): Knighthood</text>
<rect class="c" y="268" width="351" height="26"/><text class="w" x="6" y="285">Jomdar (Solar)</text>
<rect class="fr" width="351" height="294" stroke="#82b366"/>
</g>
<g id="tbl-qalat" transform="translate(758 1931)">
<rect class="n" width="351" height="26"/><text class="h w" x="175.5" y="17">Qalat</text>
<rect class="g" y="26" width="351" height="26"/><text x="6" y="43">Hall</text>
<rect class="c" y="52" width="351" height="26"/><text class="w" x="6" y="69">Solar (Selamlik, Wardrobe, Serail, Mashrabiya)</text>
<rect class="g" y="78" width="351" height="26"/><text x="6" y="95">Kitchen</text>
<rect class="g" y="104" width="351" height="26"/><text x="6" y="121">Barn</text>
<rect class="g" y="130" width="351" height="26"/><text x="6" y="147">Hayloft</text>
<rect class="r" y="156" width="351" height="26"/><text x="6" y="173">Stables (Horse)</text>
<rect class="r" y="182" width="351" height="26"/><text x="6" y="199">Muniment (Cartulary, Armoury, Crest)</text>
<rect class="n" y="208" width="351" height="26"/><text class="w" x="6" y="225">Barmkin</text>
<line class="sl" x2="351" y1="238" y2="238"/>
<rect class="g" y="242" width="351" height="26"/><text x="6" y="259">Bedouin</text>
<rect class="r" y="268" width="351" height="26"/><text x="6" y="285">Ghazi (Muniment)</text>
<rect class="r" y="294" width="351" height="26"/><text x="6" y="311">Faris (Muniment, Stables): Knighthood</text>
<rect class="c" y="320" width="351" height="26"/><text class="w" x="6" y="337">Jomdar (Solar)</text>
<rect class="fr" width="351" height="346" stroke="#6d1f00"/>
</g>
<g id="tbl-funduq" transform="translate(757 2311)">
<rect class="a" width="351" height="26"/><text class="h w" x="175.5" y="17">Funduq</text>
<rect class="a" y="26" width="351" height="26"/><text class="w" x="6" y="43">Diwan-Khane (Banquet Table, Sitting, Tapestry)</text>
<rect class="c" y="52" width="351" height="26"/><text class="w" x="6" y="69">Solar (Selamlik, Wardrobe, Serail, Mashrabiya)</text>
<rect class="g" y="78" width="351" height="26"/><text x="6" y="95">Kitchen</text>
<rect class="y" y="104" width="351" height="26"/><text x="6" y="121">Granary (Grain Store, Pantry, Buttery, Larder)</text>
<line class="sl" x2="351" y1="134" y2="134"/>
<rect class="a" y="138" width="351" height="26"/><text class="w" x="6" y="155">Innkeeper (Diwan-Khane)</text>
<rect class="c" y="164" width="351" height="26"/><text class="w" x="6" y="181">Jomdar (Solar)</text>
<rect class="c" y="190" width="351" height="26"/><text class="w" x="6" y="207">Mushrif (Kitchen): Lordship</text>
<rect class="fr" width="351" height="216" stroke="#bd7000"/>
</g>
<g id="tbl-huntinglodge" transform="translate(754 2561)">
<rect class="g" width="351" height="26"/><text class="h" x="175.5" y="17">Hunting Lodge</text>
<rect class="r" y="26" width="351" height="26"/><text x="6" y="43">Diwan (Banquet Table, Sitting)</text>
<rect class="c" y="52" width="351" height="26"/><text class="w" x="6" y="69">Solar (Wardrobe)</text>
<rect class="g" y="78" width="351" height="26"/><text x="6" y="95">Kitchen</text>
<rect class="y" y="104" width="351" height="26"/><text x="6" y="121">Granary (Grain Store, Pantry, Buttery, Larder)</text>
<line class="sl" x2="351" y1="134" y2="134"/>
<rect class="g" y="138" width="351" height="26"/><text x="6" y="155">Bedouin</text>
<rect class="g" y="164" width="351" height="26"/><text x="6" y="181">Alsigar (Granary)</text>
<rect class="fr" width="351" height="190" stroke="#82b366"/>
</g>
<g id="tbl-tiltyard" transform="translate(755 2781)">
<rect class="r" width="351" height="26"/><text class="h" x="175.5" y="17">Tiltyard</text>
<rect class="r" y="26" width="351" height="26"/><text x="6" y="43">Tiltyard (Arena, Grandstand, Dais)</text>
<rect class="s" y="52" width="351" height="26"/><text class="w" x="6" y="69">Guild Hall</text>
<rect class="r" y="78" width="351" height="26"/><text x="6" y="95">Stables (Horse)</text>
<rect class="n" y="104" width="351" height="26"/><text class="w" x="6" y="121">Courtyard</text>
<line class="sl" x2="351" y1="134" y2="134"/>
<rect class="s" y="138" width="351" height="26"/><text class="w" x="6" y="155">Guild</text>
<rect class="fr" width="351" height="164" stroke="#b85450"/>
</g>
<g id="tbl-bastidehall" transform="translate(757 2971)">
<rect class="y" width="345" height="26"/><text class="h" x="172.5" y="17">Bastide Hall</text>
<rect class="s" y="26" width="345" height="26"/><text class="w" x="6" y="43">Guild Hall</text>
<rect class="o" y="52" width="345" height="26"/><text x="6" y="69">Workshop</text>
<rect class="n" y="78" width="345" height="26"/><text class="w" x="6" y="95">Courtyard</text>
<line class="sl" x2="345" y1="108" y2="108"/>
<rect class="s" y="112" width="345" height="26"/><text class="w" x="6" y="129">Guild</text>
<rect class="fr" width="345" height="138" stroke="#36393d"/>
</g>
<g id="tbl-guildhall" transform="translate(758 3220)">
<rect class="y" width="351" height="26"/><text class="h" x="175.5" y="17">Guild Hall</text>
<rect class="y" y="26" width="351" height="26"/><text x="6" y="43">Guild Hall (Guild)</text>
<rect class="y" y="52" width="351" height="26"/><text x="6" y="69">Warehouse</text>
<rect class="r" y="78" width="351" height="26"/><text x="6" y="95">Muniment (Cartulary, Armoury, Crest)</text>
<line class="sl" x2="351" y1="108" y2="108"/>
<rect class="o" y="112" width="351" height="26"/><text x="6" y="129">Patrician (Guild Hall): Patricianship</text>
<rect class="c" y="138" width="351" height="26"/><text class="w" x="6" y="155">Jomdar (Solar)</text>
<rect class="r" y="164" width="351" height="26"/><text x="6" y="181">Faris (Guild Hall): Knighthood</text>
<rect class="fr" width="351" height="190" stroke="#36393d"/>
</g>

<!-- tables: column 3 -->
<g id="tbl-mosque-parish" transform="translate(1412 181)">
<rect class="p" width="470" height="26"/><text class="h" x="235" y="17">Mosque</text>
<rect class="s" y="26" width="470" height="26"/><text class="w" x="6" y="43">Mosque</text>
<rect class="s" y="52" width="470" height="26"/><text class="w" x="6" y="69">Manzil</text>
<line class="sl" x2="470" y1="82" y2="82"/>
<rect class="s" y="86" width="470" height="26"/><text class="w" x="6" y="103">Manzil</text>
<rect class="fr" width="470" height="112" stroke="#9673a6"/>
</g>
<g id="tbl-mosque" transform="translate(1400 350)">
<rect class="p" width="498" height="26"/><text class="h" x="249" y="17">Mosque</text>
<rect class="b" y="26" width="498" height="26"/><text x="6" y="43">Sahn (Howz, Paradise Garden, Riwaq)</text>
<rect class="p" y="52" width="498" height="26"/><text x="6" y="69">Mosque (Mihrab, Paryer Hall)</text>
<rect class="r" y="78" width="498" height="26"/><text x="6" y="95">Muniment (Cartulary, Crest)</text>
<rect class="v" y="104" width="498" height="26"/><text class="w" x="6" y="121">Almshouse</text>
<rect class="s" y="130" width="498" height="26"/><text class="w" x="6" y="147">Manzil</text>
<line class="sl" x2="498" y1="160" y2="160"/>
<rect class="s" y="164" width="498" height="26"/><text class="w" x="6" y="181">Manzil</text>
<rect class="fr" width="498" height="190" stroke="#9673a6"/>
</g>
<g id="tbl-khanqah" transform="translate(1400 610)">
<rect class="b" width="502" height="26"/><text class="h" x="251" y="17">Khanqah</text>
<rect class="s" y="26" width="502" height="26"/><text class="w" x="6" y="43">Tariq</text>
<rect class="o" y="52" width="502" height="26"/><text x="6" y="69">Workshop</text>
<rect class="u" y="78" width="502" height="26"/><text class="w" x="6" y="95">Scriptorium</text>
<rect class="u" y="104" width="502" height="26"/><text class="w" x="6" y="121">Library</text>
<rect class="u" y="130" width="502" height="26"/><text class="w" x="6" y="147">Study</text>
<line class="sl" x2="502" y1="160" y2="160"/>
<rect class="s" y="164" width="502" height="26"/><text class="w" x="6" y="181">Tariq</text>
<rect class="fr" width="502" height="190" stroke="#6c8ebf"/>
</g>
<g id="tbl-chivalrichouse" transform="translate(1438 901)">
<rect class="n" width="384" height="26"/><text class="h w" x="192" y="17">Chivalric House</text>
<rect class="s" y="26" width="384" height="26"/><text class="w" x="6" y="43">Manor Hall</text>
<rect class="n" y="52" width="384" height="26"/><text class="w" x="6" y="69">Ringwork (Moat)</text>
<rect class="n" y="78" width="384" height="26"/><text class="w" x="6" y="95">Fortified Gatehouse (Draw Bridge, Portcullis)</text>
<rect class="n" y="104" width="384" height="26"/><text class="w" x="6" y="121">Shieldwall</text>
<line class="sl" x2="384" y1="134" y2="134"/>
<rect class="s" y="138" width="384" height="26"/><text class="w" x="6" y="155">Manor Court</text>
<rect class="fr" width="384" height="164" stroke="#6d1f00"/>
</g>
<g id="tbl-hallhouse" transform="translate(1440 1100)">
<rect class="r" width="380" height="26"/><text class="h" x="190" y="17">Hall House</text>
<rect class="s" y="26" width="380" height="26"/><text class="w" x="6" y="43">Manor Hall</text>
<line class="sl" x2="380" y1="56" y2="56"/>
<rect class="s" y="60" width="380" height="26"/><text class="w" x="6" y="77">Manor Court</text>
<rect class="fr" width="380" height="86" stroke="#b85450"/>
</g>
<g id="tbl-hallkasbah" transform="translate(1440 1211)">
<rect class="n" width="380" height="26"/><text class="h w" x="190" y="17">Hall Kasbah</text>
<rect class="s" y="26" width="380" height="26"/><text class="w" x="6" y="43">Manor Hall</text>
<rect class="n" y="52" width="380" height="26"/><text class="w" x="6" y="69">Ringwork (Moat)</text>
<line class="sl" x2="380" y1="82" y2="82"/>
<rect class="s" y="86" width="380" height="26"/><text class="w" x="6" y="103">Manor Court</text>
<rect class="fr" width="380" height="112" stroke="#6d1f00"/>
</g>
<g id="tbl-gatehousekasbah" transform="translate(1440 1351)">
<rect class="n" width="380" height="26"/><text class="h w" x="190" y="17">Gatehouse Kasbah</text>
<rect class="s" y="26" width="380" height="26"/><text class="w" x="6" y="43">Manor Hall</text>
<rect class="n" y="52" width="380" height="26"/><text class="w" x="6" y="69">Ringwork (Moat)</text>
<rect class="n" y="78" width="380" height="26"/><text class="w" x="6" y="95">Fortified Gatehouse (Draw Bridge, Portcullis)</text>
<line class="sl" x2="380" y1="108" y2="108"/>
<rect class="s" y="112" width="380" height="26"/><text class="w" x="6" y="129">Manor Court</text>
<rect class="fr" width="380" height="138" stroke="#6d1f00"/>
</g>
<g id="tbl-manor" transform="translate(1370 1584)">
<rect class="r" width="499" height="26"/><text class="h" x="249.5" y="17">Manor</text>
<rect class="r" y="26" width="499" height="26"/><text x="6" y="43">Diwan (Banquet Table, Sitting)</text>
<rect class="c" y="52" width="499" height="26"/><text class="w" x="6" y="69">Solar (Selamlik, Wardrobe, Serail, Mashrabiya)</text>
<rect class="g" y="78" width="499" height="26"/><text x="6" y="95">Kitchen (Scullery, Spicery)</text>
<rect class="y" y="104" width="499" height="26"/><text x="6" y="121">Granary (Grain Store, Pantry, Buttery, Larder)</text>
<rect class="r" y="130" width="499" height="26"/><text x="6" y="147">Muniment (Cartulary, Armoury, Crest)</text>
<rect class="r" y="156" width="499" height="26"/><text x="6" y="173">Stables (Horse)</text>
<rect class="o" y="182" width="499" height="26"/><text x="6" y="199">Cabinet (Coffer)</text>
<rect class="a" y="208" width="499" height="26"/><text class="w" x="6" y="225">Majlis (Tapestry)</text>
<line class="sl" x2="499" y1="238" y2="238"/>
<rect class="c" y="242" width="499" height="26"/><text class="w" x="6" y="259">Katib (Muniment)</text>
<rect class="c" y="268" width="499" height="26"/><text class="w" x="6" y="285">Jomdar (Solar)</text>
<rect class="c" y="294" width="499" height="26"/><text class="w" x="6" y="311">Sahib (Muniment, Diwan): Knighthood</text>
<rect class="c" y="320" width="499" height="26"/><text class="w" x="6" y="337">Chakir (Muniment, Diwan): Knighthood</text>
<rect class="c" y="346" width="499" height="26"/><text class="w" x="6" y="363">Hajib (Solar): Lordship</text>
<rect class="c" y="372" width="499" height="26"/><text class="w" x="6" y="389">Mushrif (Kitchen): Lordship</text>
<rect class="g" y="398" width="499" height="26"/><text x="6" y="415">Bedouin (Granary)</text>
<rect class="g" y="424" width="499" height="26"/><text x="6" y="441">Alsigar (Granary)</text>
<rect class="rl" y="450" width="499" height="26"/><text x="6" y="467">Ghazi (Muniment)</text>
<rect class="rl" y="476" width="499" height="26"/><text x="6" y="493">Faris (Muniment, Stables): Knighthood</text>
<rect class="rl" y="502" width="499" height="26"/><text x="6" y="519">Sharif (Muniment, Diwan): Lordship</text>
<rect class="rl" y="528" width="499" height="26"/><text x="6" y="545">Vizier (Muniment, Diwan): Lordship</text>
<rect class="rl" y="554" width="499" height="26"/><text x="6" y="571">Wali (Muniment, Diwan): Barony</text>
<rect class="rl" y="580" width="499" height="26"/><text x="6" y="597">Saghir (Muniment, Diwan): Barony</text>
<rect class="fr" width="499" height="606" stroke="#b85450"/>
</g>
<g id="tbl-courtyardhouse" transform="translate(1390 2291)">
<rect class="o" width="499" height="26"/><text class="h" x="249.5" y="17">Courtyard House</text>
<rect class="s" y="26" width="499" height="26"/><text class="w" x="6" y="43">Manor Hall</text>
<rect class="b" y="52" width="499" height="26"/><text x="6" y="69">Sahn (Howz, Paradise Garden, Riwaq)</text>
<rect class="o" y="78" width="499" height="26"/><text x="6" y="95">Workshop</text>
<line class="sl" x2="499" y1="108" y2="108"/>
<rect class="o" y="112" width="499" height="26"/><text x="6" y="129">Patrician (Muniment): Patricianship</text>
<rect class="o" y="138" width="499" height="26"/><text x="6" y="155">Khazindar (Muniment, Cabinet): Lordship</text>
<rect class="o" y="164" width="499" height="26"/><text x="6" y="181">Mohtaseb (Muniment): Medina</text>
<rect class="s" y="190" width="499" height="26"/><text class="w" x="6" y="207">Manor Court</text>
<rect class="fr" width="499" height="216" stroke="#d79b00"/>
</g>
<g id="tbl-stronghouse" transform="translate(1390 2540)">
<rect class="o" width="499" height="26"/><text class="h" x="249.5" y="17">Stronghouse</text>
<rect class="s" y="26" width="499" height="26"/><text class="w" x="6" y="43">Manor Hall</text>
<rect class="b" y="52" width="499" height="26"/><text x="6" y="69">Sahn (Howz, Paradise Garden, Riwaq)</text>
<rect class="o" y="78" width="499" height="26"/><text x="6" y="95">Workshop</text>
<rect class="n" y="104" width="499" height="26"/><text class="w" x="6" y="121">Shieldwall</text>
<line class="sl" x2="499" y1="134" y2="134"/>
<rect class="o" y="138" width="499" height="26"/><text x="6" y="155">Patrician (Muniment): Patricianship</text>
<rect class="o" y="164" width="499" height="26"/><text x="6" y="181">Khazindar (Muniment, Cabinet): Lordship</text>
<rect class="o" y="190" width="499" height="26"/><text x="6" y="207">Mohtaseb (Muniment): Medina</text>
<rect class="s" y="216" width="499" height="26"/><text class="w" x="6" y="233">Manor Court</text>
<rect class="fr" width="499" height="242" stroke="#d79b00"/>
</g>
<g id="tbl-caravanserai" transform="translate(1396 2810)">
<rect class="n" width="499" height="26"/><text class="h w" x="249.5" y="17">Caravanserai</text>
<rect class="a" y="26" width="499" height="26"/><text class="w" x="6" y="43">Diwan-Khane (Banquet Table, Sitting, Tapestry)</text>
<rect class="n" y="52" width="499" height="26"/><text class="w" x="6" y="69">Courtyard</text>
<rect class="c" y="78" width="499" height="26"/><text class="w" x="6" y="95">Solar (Selamlik, Wardrobe, Serail, Mashrabiya)</text>
<rect class="g" y="104" width="499" height="26"/><text x="6" y="121">Kitchen (Spicery)</text>
<rect class="y" y="130" width="499" height="26"/><text x="6" y="147">Granary (Grain Store, Pantry, Buttery, Larder)</text>
<rect class="r" y="156" width="499" height="26"/><text x="6" y="173">Muniment (Armoury)</text>
<rect class="r" y="182" width="499" height="26"/><text x="6" y="199">Stables (Horse)</text>
<line class="sl" x2="499" y1="212" y2="212"/>
<rect class="a" y="216" width="499" height="26"/><text class="w" x="6" y="233">Innkeeper (Diwan-Khane)</text>
<rect class="c" y="242" width="499" height="26"/><text class="w" x="6" y="259">Hajib (Solar): Lordship</text>
<rect class="c" y="268" width="499" height="26"/><text class="w" x="6" y="285">Mushrif (Kitchen): Lordship</text>
<rect class="a" y="294" width="499" height="26"/><text class="w" x="6" y="311">Hostler (Stables)</text>
<rect class="fr" width="499" height="320" stroke="#6d1f00"/>
</g>
<g id="tbl-souq" transform="translate(1392 3150)">
<rect class="y" width="501" height="26"/><text class="h" x="250.5" y="17">Souq</text>
<rect class="y" y="26" width="501" height="22"/><text x="6" y="41">Market Square</text>
<rect class="s" y="48" width="501" height="22"/><text class="w" x="6" y="63">Guild Hall</text>
<rect class="y" y="70" width="501" height="22"/><text x="6" y="85">Cloth Hall</text>
<line class="sl" x2="501" y1="95" y2="95"/>
<rect class="o" y="98" width="501" height="22"/><text x="6" y="113">Patrician (Market Square): Patricianship</text>
<rect class="fr" width="501" height="120" stroke="#36393d"/>
</g>
<g id="tbl-factory" transform="translate(1392 3301)">
<rect class="y" width="497" height="26"/><text class="h" x="248.5" y="17">Factory</text>
<rect class="k" y="26" width="497" height="26"/><text class="w" x="6" y="43">Port</text>
<rect class="s" y="52" width="497" height="26"/><text class="w" x="6" y="69">Guild Hall</text>
<line class="sl" x2="497" y1="82" y2="82"/>
<rect class="k" y="86" width="497" height="26"/><text class="w" x="6" y="103">Port</text>
<rect class="fr" width="497" height="112" stroke="#36393d"/>
</g>

<!-- tables: column 4 -->
<g id="tbl-grandmosque" transform="translate(2196 160)">
<rect class="p" width="386" height="26"/><text class="h" x="193" y="17">Grand Mosque</text>
<rect class="b" y="26" width="386" height="26"/><text x="6" y="43">Sahn (Howz, Paradise Garden, Riwaq)</text>
<rect class="p" y="52" width="386" height="26"/><text x="6" y="69">Iwan</text>
<rect class="p" y="78" width="386" height="26"/><text x="6" y="95">Grand Mosque (Mihrab, Prayer Hall)</text>
<rect class="s" y="104" width="386" height="26"/><text class="w" x="6" y="121">Tariq</text>
<rect class="u" y="130" width="386" height="26"/><text class="w" x="6" y="147">School</text>
<rect class="r" y="156" width="386" height="26"/><text x="6" y="173">Muniment (Cartulary, Crest)</text>
<rect class="v" y="182" width="386" height="26"/><text class="w" x="6" y="199">Almshouse</text>
<line class="sl" x2="386" y1="212" y2="212"/>
<rect class="s" y="216" width="386" height="26"/><text class="w" x="6" y="233">Manzil</text>
<rect class="s" y="242" width="386" height="26"/><text class="w" x="6" y="259">Tariq</text>
<rect class="fr" width="386" height="268" stroke="#9673a6"/>
</g>
<g id="tbl-grandmosque-diocese" transform="translate(2201 511)">
<rect class="p" width="359" height="26"/><text class="h" x="179.5" y="17">Grand Mosque</text>
<rect class="s" y="26" width="359" height="26"/><text class="w" x="6" y="43">Grand Mosque</text>
<line class="sl" x2="359" y1="56" y2="56"/>
<rect class="s" y="60" width="359" height="26"/><text class="w" x="6" y="77">Manzil</text>
<rect class="fr" width="359" height="86" stroke="#9673a6"/>
</g>
<g id="tbl-fortifiedmosque" transform="translate(2196 681)">
<rect class="n" width="355" height="26"/><text class="h w" x="177.5" y="17">Fortified Mosque</text>
<rect class="s" y="26" width="355" height="26"/><text class="w" x="6" y="43">Mosque</text>
<rect class="n" y="52" width="355" height="26"/><text class="w" x="6" y="69">Courtyard</text>
<rect class="u" y="78" width="355" height="26"/><text class="w" x="6" y="95">School</text>
<line class="sl" x2="355" y1="108" y2="108"/>
<rect class="s" y="112" width="355" height="26"/><text class="w" x="6" y="129">Manzil</text>
<rect class="fr" width="355" height="138" stroke="#6d1f00"/>
</g>
<g id="tbl-palais" transform="translate(2214 892)">
<rect class="o" width="341" height="26"/><text class="h" x="170.5" y="17">Palais</text>
<rect class="s" y="26" width="341" height="26"/><text class="w" x="6" y="43">Manor Hall</text>
<rect class="o" y="52" width="341" height="26"/><text x="6" y="69">Workshop</text>
<rect class="o" y="78" width="341" height="26"/><text x="6" y="95">Atelier</text>
<rect class="u" y="104" width="341" height="26"/><text class="w" x="6" y="121">Library</text>
<rect class="u" y="130" width="341" height="26"/><text class="w" x="6" y="147">Study</text>
<rect class="c" y="156" width="341" height="26"/><text class="w" x="6" y="173">Chancery</text>
<rect class="n" y="182" width="341" height="26"/><text class="w" x="6" y="199">Courtyard</text>
<line class="sl" x2="341" y1="212" y2="212"/>
<rect class="p" y="216" width="341" height="26"/><text x="6" y="233">Mufti (Muniment, Diwan): Diocese</text>
<rect class="p" y="242" width="341" height="26"/><text x="6" y="259">Mufassir (Muniment): Barony</text>
<rect class="p" y="268" width="341" height="26"/><text x="6" y="285">Qadi (Muniment, Diwan): Viscounty</text>
<rect class="o" y="294" width="341" height="26"/><text x="6" y="311">Patrician (Muniment, Diwan): Patricianship</text>
<rect class="o" y="320" width="341" height="26"/><text x="6" y="337">Khazindar (Cabinet)</text>
<rect class="o" y="346" width="341" height="26"/><text x="6" y="363">Mohtaseb (Cabinet)</text>
<rect class="s" y="372" width="341" height="26"/><text class="w" x="6" y="389">Manor Court</text>
<rect class="c" y="398" width="341" height="26"/><text class="w" x="6" y="415">Sultan (Muniment, Diwan): Kingdom</text>
<rect class="rl" y="424" width="341" height="26"/><text x="6" y="441">Sharif (Muniment, Diwan): Lordship</text>
<rect class="rl" y="450" width="341" height="26"/><text x="6" y="467">Vizier (Muniment, Diwan): Lordship</text>
<rect class="rl" y="476" width="341" height="26"/><text x="6" y="493">Wali (Muniment, Diwan): Barony</text>
<rect class="rl" y="502" width="341" height="26"/><text x="6" y="519">Saghir (Muniment, Diwan): Barony</text>
<rect class="rl" y="528" width="341" height="26"/><text x="6" y="545">Sheikh (Muniment, Diwan): County</text>
<rect class="rl" y="554" width="341" height="26"/><text x="6" y="571">Emir (Muniment, Diwan): Principality</text>
<rect class="rl" y="580" width="341" height="26"/><text x="6" y="597">Grand Vizier (Muniment, Diwan): Grand Principality</text>
<rect class="rl" y="606" width="341" height="26"/><text x="6" y="623">Malik (Muniment, Diwan): Kingdom</text>
<rect class="p" y="632" width="341" height="26"/><text x="6" y="649">Caliph (Muniment, Diwan): Kingdom</text>
<rect class="fr" width="341" height="658" stroke="#d79b00"/>
</g>
<g id="tbl-townhall" transform="translate(2146 1641)">
<rect class="o" width="467" height="26"/><text class="h" x="233.5" y="17">Town Hall</text>
<rect class="o" y="26" width="467" height="26"/><text x="6" y="43">Council Hall</text>
<rect class="r" y="52" width="467" height="26"/><text x="6" y="69">Muniment (Cartulary, Crest)</text>
<rect class="c" y="78" width="467" height="26"/><text class="w" x="6" y="95">Arsenal (Armoury)</text>
<rect class="y" y="104" width="467" height="26"/><text x="6" y="121">Mint</text>
<line class="sl" x2="467" y1="134" y2="134"/>
<rect class="o" y="138" width="467" height="26"/><text x="6" y="155">Mohtaseb (Muniment)</text>
<rect class="o" y="164" width="467" height="26"/><text x="6" y="181">Khazindar (Muniment, Council Hall)</text>
<rect class="r" y="190" width="467" height="26"/><text x="6" y="207">Saghir (Arsenal): Barony</text>
<rect class="fr" width="467" height="216" stroke="#d79b00"/>
</g>
<g id="tbl-townwall" transform="translate(2155 1891)">
<rect class="n" width="467" height="26"/><text class="h w" x="233.5" y="17">Town Wall</text>
<rect class="n" y="26" width="467" height="26"/><text class="w" x="6" y="43">Town Wall (Moat, Turrets)</text>
<rect class="n" y="52" width="467" height="26"/><text class="w" x="6" y="69">Fortified Gatehouse (Draw Bridge, Portcullis, Gate Tower)</text>
<line class="sl" x2="467" y1="82" y2="82"/>
<rect class="c" y="86" width="467" height="26"/><text class="w" x="6" y="103">Sahib (Fortified Gatehouse): Knighthood</text>
<rect class="c" y="112" width="467" height="26"/><text class="w" x="6" y="129">Chakir (Fortified Gatehouse): Knighthood</text>
<rect class="c" y="138" width="467" height="26"/><text class="w" x="6" y="155">Hajib (Fortified Gatehouse): Lordship</text>
<rect class="r" y="164" width="467" height="26"/><text x="6" y="181">Faris (Town Wall): Knighthood</text>
<rect class="fr" width="467" height="190" stroke="#6d1f00"/>
</g>
<g id="tbl-bazaar" transform="translate(2155 2106)">
<rect class="y" width="467" height="26"/><text class="h" x="233.5" y="17">Bazaar</text>
<rect class="y" y="26" width="467" height="26"/><text x="6" y="43">Fair Ground (Market Stalls, Fair)</text>
<rect class="s" y="52" width="467" height="26"/><text class="w" x="6" y="69">Guild Hall</text>
<rect class="y" y="78" width="467" height="26"/><text x="6" y="95">Merchant Bank</text>
<line class="sl" x2="467" y1="108" y2="108"/>
<rect class="o" y="112" width="467" height="26"/><text x="6" y="129">Patrician (Fair Ground): Patricianship</text>
<rect class="fr" width="467" height="138" stroke="#36393d"/>
</g>
<g id="tbl-madrassa" transform="translate(2155 2270)">
<rect class="u" width="467" height="26"/><text class="h w" x="233.5" y="17">Madrassa</text>
<rect class="r" y="26" width="467" height="26"/><text x="6" y="43">Diwan (Banquet Table, Sitting)</text>
<rect class="g" y="52" width="467" height="26"/><text x="6" y="69">Kitchen Court (Scullery, Bakehouse)</text>
<rect class="u" y="78" width="467" height="26"/><text class="w" x="6" y="95">Library</text>
<rect class="u" y="104" width="467" height="26"/><text class="w" x="6" y="121">Law College</text>
<rect class="u" y="130" width="467" height="26"/><text class="w" x="6" y="147">Medicine College</text>
<rect class="u" y="156" width="467" height="26"/><text class="w" x="6" y="173">Theology College</text>
<rect class="s" y="182" width="467" height="26"/><text class="w" x="6" y="199">Tariq</text>
<rect class="s" y="208" width="467" height="26"/><text class="w" x="6" y="225">Guild Hall</text>
<rect class="a" y="234" width="467" height="26"/><text class="w" x="6" y="251">Majlis (Tapestry)</text>
<rect class="c" y="260" width="467" height="26"/><text class="w" x="6" y="277">Porter Lodge</text>
<rect class="n" y="286" width="467" height="26"/><text class="w" x="6" y="303">Courtyard (Gatehouse)</text>
<rect class="o" y="312" width="467" height="26"/><text x="6" y="329">Masters Lodgings</text>
<line class="sl" x2="467" y1="342" y2="342"/>
<rect class="s" y="346" width="467" height="26"/><text class="w" x="6" y="363">Tariq</text>
<rect class="s" y="372" width="467" height="26"/><text class="w" x="6" y="389">Guild</text>
<rect class="o" y="398" width="467" height="26"/><text x="6" y="415">Murabit (Masters Lodgings): Castellany</text>
<rect class="fr" width="467" height="424" stroke="#001dbc"/>
</g>
<g id="tbl-khastakhaneh" transform="translate(2155 2730)">
<rect class="v" width="467" height="26"/><text class="h w" x="233.5" y="17">Khastakhaneh</text>
<rect class="s" y="26" width="467" height="26"/><text class="w" x="6" y="43">Tariq</text>
<rect class="v" y="52" width="467" height="26"/><text class="w" x="6" y="69">Almshouse</text>
<rect class="u" y="78" width="467" height="26"/><text class="w" x="6" y="95">Medicine College</text>
<rect class="o" y="104" width="467" height="26"/><text x="6" y="121">Masters Lodgings</text>
<line class="sl" x2="467" y1="134" y2="134"/>
<rect class="s" y="138" width="467" height="26"/><text class="w" x="6" y="155">Tariq</text>
<rect class="o" y="164" width="467" height="26"/><text x="6" y="181">Murabit (Masters Lodgings): Castellany</text>
<rect class="fr" width="467" height="190" stroke="#7700cc"/>
</g>
<g id="tbl-stapleport" transform="translate(2154 2941)">
<rect class="y" width="466" height="26"/><text class="h" x="233" y="17">Staple Port</text>
<rect class="k" y="26" width="466" height="26"/><text class="w" x="6" y="43">Port</text>
<rect class="y" y="52" width="466" height="26"/><text x="6" y="69">Weigh House</text>
<rect class="s" y="78" width="466" height="26"/><text class="w" x="6" y="95">Guild Hall</text>
<rect class="r" y="104" width="466" height="26"/><text x="6" y="121">Admirality</text>
<line class="sl" x2="466" y1="134" y2="134"/>
<rect class="k" y="138" width="466" height="26"/><text class="w" x="6" y="155">Port</text>
<rect class="fr" width="466" height="164" stroke="#36393d"/>
</g>

<!-- tables: column 5 -->
<g id="tbl-amsar" transform="translate(2885 160)">
<rect class="n" width="498" height="26"/><text class="h w" x="249" y="17">Amsar</text>
<rect class="s" y="26" width="498" height="26"/><text class="w" x="6" y="43">Mosque</text>
<rect class="n" y="52" width="498" height="26"/><text class="w" x="6" y="69">Courtyard</text>
<rect class="n" y="78" width="498" height="26"/><text class="w" x="6" y="95">Linked Curtain Wall</text>
<rect class="u" y="104" width="498" height="26"/><text class="w" x="6" y="121">School</text>
<line class="sl" x2="498" y1="134" y2="134"/>
<rect class="s" y="138" width="498" height="26"/><text class="w" x="6" y="155">Manzil</text>
<rect class="fr" width="498" height="164" stroke="#6d1f00"/>
</g>
<g id="tbl-ribat" transform="translate(2904 461)">
<rect class="n" width="499" height="26"/><text class="h w" x="249.5" y="17">Ribat</text>
<rect class="s" y="26" width="499" height="26"/><text class="w" x="6" y="43">Tariq</text>
<rect class="n" y="52" width="499" height="26"/><text class="w" x="6" y="69">Courtyard</text>
<rect class="o" y="78" width="499" height="26"/><text x="6" y="95">Workshop</text>
<rect class="u" y="104" width="499" height="26"/><text class="w" x="6" y="121">Scriptorium</text>
<rect class="u" y="130" width="499" height="26"/><text class="w" x="6" y="147">Library</text>
<rect class="u" y="156" width="499" height="26"/><text class="w" x="6" y="173">Study</text>
<line class="sl" x2="499" y1="186" y2="186"/>
<rect class="s" y="190" width="499" height="26"/><text class="w" x="6" y="207">Tariq</text>
<rect class="fr" width="499" height="216" stroke="#6d1f00"/>
</g>
<g id="tbl-ksar" transform="translate(2954 822)">
<rect class="n" width="340" height="26"/><text class="h w" x="170" y="17">Ksar</text>
<rect class="s" y="26" width="340" height="26"/><text class="w" x="6" y="43">Manor Hall</text>
<rect class="u" y="52" width="340" height="26"/><text class="w" x="6" y="69">Library</text>
<rect class="u" y="78" width="340" height="26"/><text class="w" x="6" y="95">Study</text>
<rect class="c" y="104" width="340" height="26"/><text class="w" x="6" y="121">Chancery</text>
<rect class="n" y="130" width="340" height="26"/><text class="w" x="6" y="147">Defences</text>
<line class="sl" x2="340" y1="160" y2="160"/>
<rect class="s" y="164" width="340" height="26"/><text class="w" x="6" y="181">Manor Court</text>
<rect class="rl" y="190" width="340" height="26"/><text x="6" y="207">Ustadar (Muniment, Diwan): Castellany</text>
<rect class="rl" y="216" width="340" height="26"/><text x="6" y="233">Sheikh (Muniment, Diwan): County</text>
<rect class="rl" y="242" width="340" height="26"/><text x="6" y="259">Hakim (Muniment, Diwan): March</text>
<rect class="fr" width="340" height="268" stroke="#6d1f00"/>
</g>
<g id="tbl-motteandbailey" transform="translate(2912 1220)">
<rect class="n" width="499" height="26"/><text class="h w" x="249.5" y="17">Motte-and-Bailey Ksar</text>
<rect class="s" y="26" width="499" height="26"/><text class="w" x="6" y="43">Ksar Bailey</text>
<rect class="n" y="52" width="499" height="26"/><text class="w" x="6" y="69">Ringwork (Moat)</text>
<rect class="n" y="78" width="499" height="26"/><text class="w" x="6" y="95">Poly-Warded Curtain Wall</text>
<line class="sl" x2="499" y1="108" y2="108"/>
<rect class="s" y="112" width="499" height="26"/><text class="w" x="6" y="129">Ksar Diwan</text>
<rect class="fr" width="499" height="138" stroke="#6d1f00"/>
</g>
<g id="tbl-towerksar" transform="translate(2912 1390)">
<rect class="n" width="499" height="26"/><text class="h w" x="249.5" y="17">Tower Ksar</text>
<rect class="s" y="26" width="499" height="26"/><text class="w" x="6" y="43">Ksar Bailey</text>
<rect class="n" y="52" width="499" height="26"/><text class="w" x="6" y="69">Ringwork</text>
<rect class="n" y="78" width="499" height="26"/><text class="w" x="6" y="95">Fortified Gatehouse (Draw Bridge, Portcullis, Gate Towers)</text>
<rect class="n" y="104" width="499" height="26"/><text class="w" x="6" y="121">Compact Watchtower</text>
<line class="sl" x2="499" y1="134" y2="134"/>
<rect class="s" y="138" width="499" height="26"/><text class="w" x="6" y="155">Ksar Diwan</text>
<rect class="fr" width="499" height="164" stroke="#6d1f00"/>
</g>
<g id="tbl-courtyardksar" transform="translate(2912 1630)">
<rect class="n" width="499" height="26"/><text class="h w" x="249.5" y="17">Courtyard Ksar</text>
<rect class="s" y="26" width="499" height="26"/><text class="w" x="6" y="43">Ksar Bailey</text>
<rect class="n" y="52" width="499" height="26"/><text class="w" x="6" y="69">Ringwork (Moat)</text>
<rect class="n" y="78" width="499" height="26"/><text class="w" x="6" y="95">Fortified Gatehouse (Draw Bridge, Portcullis, Gate Towers)</text>
<rect class="n" y="104" width="499" height="26"/><text class="w" x="6" y="121">Compact Watchtower</text>
<rect class="n" y="130" width="499" height="26"/><text class="w" x="6" y="147">Enclosed Curtain Wall (Turrets)</text>
<line class="sl" x2="499" y1="160" y2="160"/>
<rect class="s" y="164" width="499" height="26"/><text class="w" x="6" y="181">Ksar Diwan</text>
<rect class="fr" width="499" height="190" stroke="#6d1f00"/>
</g>
<g id="tbl-zplan" transform="translate(2912 1910)">
<rect class="n" width="499" height="26"/><text class="h w" x="249.5" y="17">Z-Plan / L-Plan / Towered Ksar</text>
<rect class="s" y="26" width="499" height="26"/><text class="w" x="6" y="43">Ksar Bailey</text>
<rect class="n" y="52" width="499" height="26"/><text class="w" x="6" y="69">Ringwork (Moat)</text>
<rect class="n" y="78" width="499" height="26"/><text class="w" x="6" y="95">Fortified Gatehouse (Drawbridge, Portcullis, Gate Towers)</text>
<rect class="n" y="104" width="499" height="26"/><text class="w" x="6" y="121">Compact Watchtower</text>
<rect class="n" y="130" width="499" height="26"/><text class="w" x="6" y="147">Linked Curtain Wall (Turrets)</text>
<line class="sl" x2="499" y1="160" y2="160"/>
<rect class="s" y="164" width="499" height="26"/><text class="w" x="6" y="181">Ksar Diwan</text>
<rect class="fr" width="499" height="190" stroke="#6d1f00"/>
</g>

<!-- tables: column 6 -->
<g id="tbl-alqasbah-county" transform="translate(3640 235)">
<rect class="n" width="351" height="26"/><text class="h w" x="175.5" y="17">Alqasbah</text>
<rect class="s" y="26" width="351" height="26"/><text class="w" x="6" y="43">Alqasbah Bailey</text>
<rect class="n" y="52" width="351" height="26"/><text class="w" x="6" y="69">Ringwork</text>
<rect class="n" y="78" width="351" height="26"/><text class="w" x="6" y="95">Fortified Gatehouse (Draw Bridge, Portcullis, Gate Towers)</text>
<rect class="n" y="104" width="351" height="26"/><text class="w" x="6" y="121">Compact Watchtower</text>
<rect class="n" y="130" width="351" height="26"/><text class="w" x="6" y="147">Linked / Enclosed / Poly-Warded Curtain Wall (Turrets)</text>
<rect class="n" y="156" width="351" height="26"/><text class="w" x="6" y="173">Outer Curtain Wall (Turrets)</text>
<line class="sl" x2="351" y1="186" y2="186"/>
<rect class="s" y="190" width="351" height="26"/><text class="w" x="6" y="207">Alqasbah Diwan</text>
<rect class="fr" width="351" height="216" stroke="#6d1f00"/>
</g>
<g id="tbl-alqasbah" transform="translate(3640 581)">
<rect class="n" width="341" height="26"/><text class="h w" x="170.5" y="17">Alqasbah</text>
<rect class="s" y="26" width="341" height="26"/><text class="w" x="6" y="43">Manor Hall</text>
<rect class="y" y="52" width="341" height="26"/><text x="6" y="69">Treasury (Regalia, Crown Jewels)</text>
<rect class="u" y="78" width="341" height="26"/><text class="w" x="6" y="95">Library</text>
<rect class="u" y="104" width="341" height="26"/><text class="w" x="6" y="121">Study</text>
<rect class="c" y="130" width="341" height="26"/><text class="w" x="6" y="147">Chancery</text>
<rect class="n" y="156" width="341" height="26"/><text class="w" x="6" y="173">Defenses</text>
<line class="sl" x2="341" y1="186" y2="186"/>
<rect class="c" y="190" width="341" height="26"/><text class="w" x="6" y="207">Sultan (Muniment, Diwan): Kingdom</text>
<rect class="s" y="216" width="341" height="26"/><text class="w" x="6" y="233">Manor Court</text>
<rect class="rl" y="242" width="341" height="26"/><text x="6" y="259">Ustadar (Muniment, Diwan): Castellany</text>
<rect class="rl" y="268" width="341" height="26"/><text x="6" y="285">Sheikh (Muniment, Diwan): County</text>
<rect class="rl" y="294" width="341" height="26"/><text x="6" y="311">Hakim (Muniment, Diwan): March</text>
<rect class="rl" y="320" width="341" height="26"/><text x="6" y="337">Emir (Muniment, Diwan): Principality</text>
<rect class="rl" y="346" width="341" height="26"/><text x="6" y="363">Grand Vizier (Muniment, Diwan): Grand Principality</text>
<rect class="rl" y="372" width="341" height="26"/><text x="6" y="389">Malik (Muniment, Diwan): Kingdom</text>
<rect class="fr" width="341" height="398" stroke="#6d1f00"/>
</g>

<!-- connectors -->
<g id="connectors" fill="none" stroke="#000" stroke-width="1">
<path d="M933.5,1902 V1931" marker-end="url(#ah)"/>
<path d="M1630,1100 V1065" marker-end="url(#ah)"/>
<path d="M1630,1186 V1211" marker-end="url(#ah)"/>
<path d="M1630,1323 V1351" marker-end="url(#ah)"/>
<path d="M1639.5,2507 V2540" marker-end="url(#ah)"/>
<path d="M3161.5,1554 V1630" marker-end="url(#ah)"/>
<path d="M3036.75,1554 V1589 Q3036.75,1594 3031.75,1594 H2903 Q2898,1594 2898,1599 V1864 Q2898,1869 2903,1869 H3031.75 Q3036.75,1869 3036.75,1874 V1910" marker-end="url(#ah)"/>
</g>
</svg>
